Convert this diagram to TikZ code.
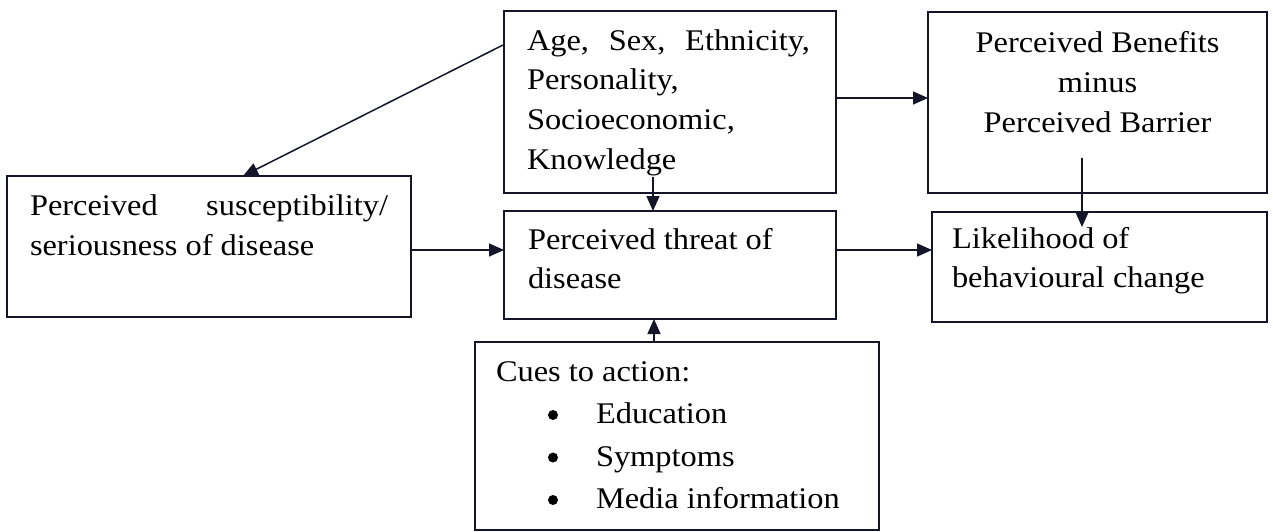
\documentclass[tikz,border=0pt]{standalone}
\usepackage{fontspec}
\setmainfont{Liberation Serif}[FakeStretch=1.08]
\usetikzlibrary{arrows.meta}
\definecolor{linecol}{HTML}{15152A}
\begin{document}
\begin{tikzpicture}[x=1pt,y=-1pt,
  box/.style={draw=linecol, line width=1.6pt, rectangle, inner sep=0pt, outer sep=0pt},
  txt/.style={anchor=base west, inner sep=0pt, outer sep=0pt, font=\fontsize{30}{39.5}\selectfont},
  ctxt/.style={anchor=base, inner sep=0pt, outer sep=0pt, font=\fontsize{30}{39.5}\selectfont},
  bul/.style={circle, fill=black, minimum size=10pt, inner sep=0pt, outer sep=0pt},
  arr/.style={draw=linecol, line width=1.5pt, -{Triangle[length=15pt,width=13pt]}}]
\useasboundingbox (0,0) rectangle (1273,532);

% boxes
\node[box, minimum width=332pt, minimum height=182pt] (A) at (670,102) {};
\node[box, minimum width=339pt, minimum height=181pt] (B) at (1097.5,102.5) {};
\node[box, minimum width=404pt, minimum height=141pt] (S) at (209,246.5) {};
\node[box, minimum width=332pt, minimum height=108pt] (T) at (670,265) {};
\node[box, minimum width=335pt, minimum height=110pt] (L) at (1099.5,267) {};
\node[box, minimum width=404pt, minimum height=188pt] (C) at (677,436) {};

% texts: Age box
\node[txt] (a1) at (527,50.5) {\hbox to 283pt{Age,\hfill Sex,\hfill Ethnicity,}};
\node[txt] (a2) at (527,90) {Personality,};
\node[txt] (a3) at (527,129.5) {Socioeconomic,};
\node[txt] (a4) at (527,169) {Knowledge};

% Benefits box
\node[ctxt] (b1) at (1097.5,53) {Perceived Benefits};
\node[ctxt] (b2) at (1097.5,92.5) {minus};
\node[ctxt] (b3) at (1097.5,132) {Perceived Barrier};

% Susceptibility box
\node[txt] (s1) at (30,215) {\hbox to 358pt{Perceived\hfill susceptibility/}};
\node[txt] (s2) at (30,255.5) {seriousness of disease};

% Threat box
\node[txt] (t1) at (528,249) {Perceived threat of};
\node[txt] (t2) at (528,288.5) {disease};

% Likelihood box
\node[txt] (l1) at (952,248) {Likelihood of};
\node[txt] (l2) at (952,287.5) {behavioural change};

% Cues box
\node[txt] (c1) at (496,381) {Cues to action:};
\node[bul] (c2) at (553,415) {};
\node[txt] (c3) at (596,423.5) {Education};
\node[bul] (c4) at (553,457.5) {};
\node[txt] (c5) at (596,466) {Symptoms};
\node[bul] (c6) at (553,500) {};
\node[txt] (c7) at (596,508.5) {Media information};

% connector end points
\coordinate (pA1) at (503,45);
\coordinate (pS1) at (243,176);
\coordinate (pA2) at (653,177);
\coordinate (pB1) at (1082,158);
\coordinate (pL1) at (1082,227);

% connectors
\draw[arr] (pA1) -- (pS1);
\draw[arr] (A.east |- 0,98) -- (B.west |- 0,98);
\draw[arr] (pA2) -- (T.north -| pA2);
\draw[arr] (pB1) -- (pL1);
\draw[arr] (S.east |- 0,250) -- (T.west |- 0,250);
\draw[arr] (T.east |- 0,250) -- (L.west |- 0,250);
\draw[arr] (C.north -| 654,0) -- (T.south -| 654,0);
\end{tikzpicture}
\end{document}
